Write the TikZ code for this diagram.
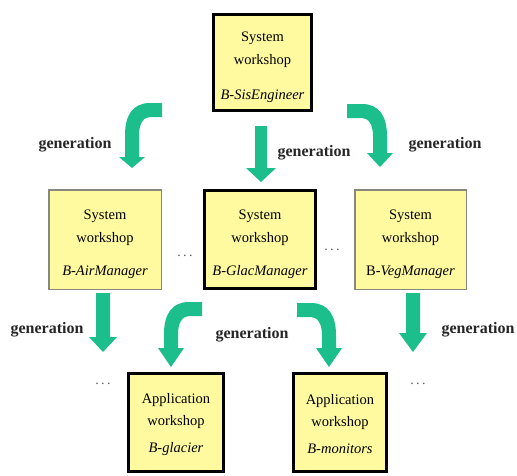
\documentclass[tikz,border=0pt]{standalone}
\usepackage{fontspec}
\setmainfont{Liberation Serif}
\definecolor{arrowgreen}{RGB}{28,190,140}
\definecolor{boxfill}{RGB}{255,250,160}
\definecolor{thinborder}{RGB}{135,135,125}
\tikzset{
  boxbase/.style={fill=boxfill, align=center, inner sep=0pt, font=\fontsize{14.5}{23}\selectfont},
  thickbox/.style={boxbase, draw=black, line width=3pt},
  thinbox/.style={boxbase, draw=thinborder, line width=1.5pt},
  genlabel/.style={font=\fontsize{16}{18}\selectfont\bfseries, text=black!85, inner sep=0pt},
  dotslabel/.style={font=\fontsize{14}{16}\selectfont, text=black!65, inner sep=0pt, anchor=base},
  arrowfill/.style={fill=arrowgreen}
}
% curved block arrow: tip x, tip y, xscale, end x offset, top y offset, head base offset
\newcommand\curvarr[6]{%
  \begin{scope}[shift={(#1,#2)}, xscale=#3]
    \fill[arrowfill] (#4,#5) -- (18,#5) .. controls (1,#5) and (-7,#5+12) .. (-7,#5+32)
      -- (-7,#6) -- (-13,#6) -- (0,0) -- (13,#6) -- (7,#6) -- (7,#5+32)
      .. controls (7,#5+20) and (12,#5+14) .. (18,#5+14) -- (#4,#5+14) -- cycle;
  \end{scope}}
% straight block arrow: tip x, tip y, top offset, head base offset, shaft half, head half
\newcommand\strarr[6]{%
  \begin{scope}[shift={(#1,#2)}]
    \fill[arrowfill] (-#5,#3) -- (#5,#3) -- (#5,#4) -- (#6,#4) -- (0,0) -- (-#6,#4) -- (-#5,#4) -- cycle;
  \end{scope}}
\begin{document}
\begin{tikzpicture}[x=1pt,y=-1pt]
\useasboundingbox (0,0) rectangle (517,475);
% boxes
\node[thickbox, minimum width=98pt, minimum height=96pt] (top) at (262.5,62.5)
  {\rule{0pt}{20pt}System\\workshop\\[12pt]\textit{B-SisEngineer}};
\node[thinbox, minimum width=112.5pt, minimum height=99.5pt] (air) at (105,239.5)
  {\rule{0pt}{19pt}System\\workshop\\[10pt]\textit{B-AirManager}};
\node[thickbox, minimum width=111pt, minimum height=98pt] (glac) at (260,239.5)
  {\rule{0pt}{19pt}System\\workshop\\[10pt]\textit{B-GlacManager}};
\node[thinbox, minimum width=111.5pt, minimum height=99.5pt] (veg) at (410.5,239.5)
  {\rule{0pt}{19pt}System\\workshop\\[10pt]B-\textit{VegManager}};
\node[thickbox, minimum width=95pt, minimum height=98pt, font=\fontsize{14.5}{22}\selectfont] (glacier) at (176,422.5)
  {\rule{0pt}{14pt}Application\\workshop\\[5pt]\textit{B-glacier}};
\node[thickbox, minimum width=93pt, minimum height=98pt, font=\fontsize{14.5}{22}\selectfont] (monitors) at (340,422.5)
  {\rule{0pt}{14pt}Application\\workshop\\[5pt]\textit{B-monitors}};
% dots
\node[dotslabel] (d1) at (185,256) {.\,.\,.};
\node[dotslabel] (d2) at (332,250) {.\,.\,.};
\node[dotslabel] (d3) at (103,384) {.\,.\,.};
\node[dotslabel] (d4) at (418,384) {.\,.\,.};
% arrows
\curvarr{132}{168}{1}{30}{-65}{-11}
\curvarr{380}{167}{-1}{33}{-63}{-14}
\curvarr{171}{367}{1}{31}{-65}{-19}
\curvarr{329}{367}{-1}{32}{-64}{-19}
\strarr{261}{182}{-56}{-14}{6}{15}
\strarr{103}{352}{-59}{-15}{7}{14}
\strarr{413}{352}{-59}{-19}{7}{14}
% labels
\node[genlabel] (g1) at (75,145) {generation};
\node[genlabel] (g2) at (314,153) {generation};
\node[genlabel] (g3) at (445,145) {generation};
\node[genlabel] (g4) at (47,330) {generation};
\node[genlabel] (g5) at (252,335) {generation};
\node[genlabel] (g6) at (478,330) {generation};
\end{tikzpicture}
\end{document}
